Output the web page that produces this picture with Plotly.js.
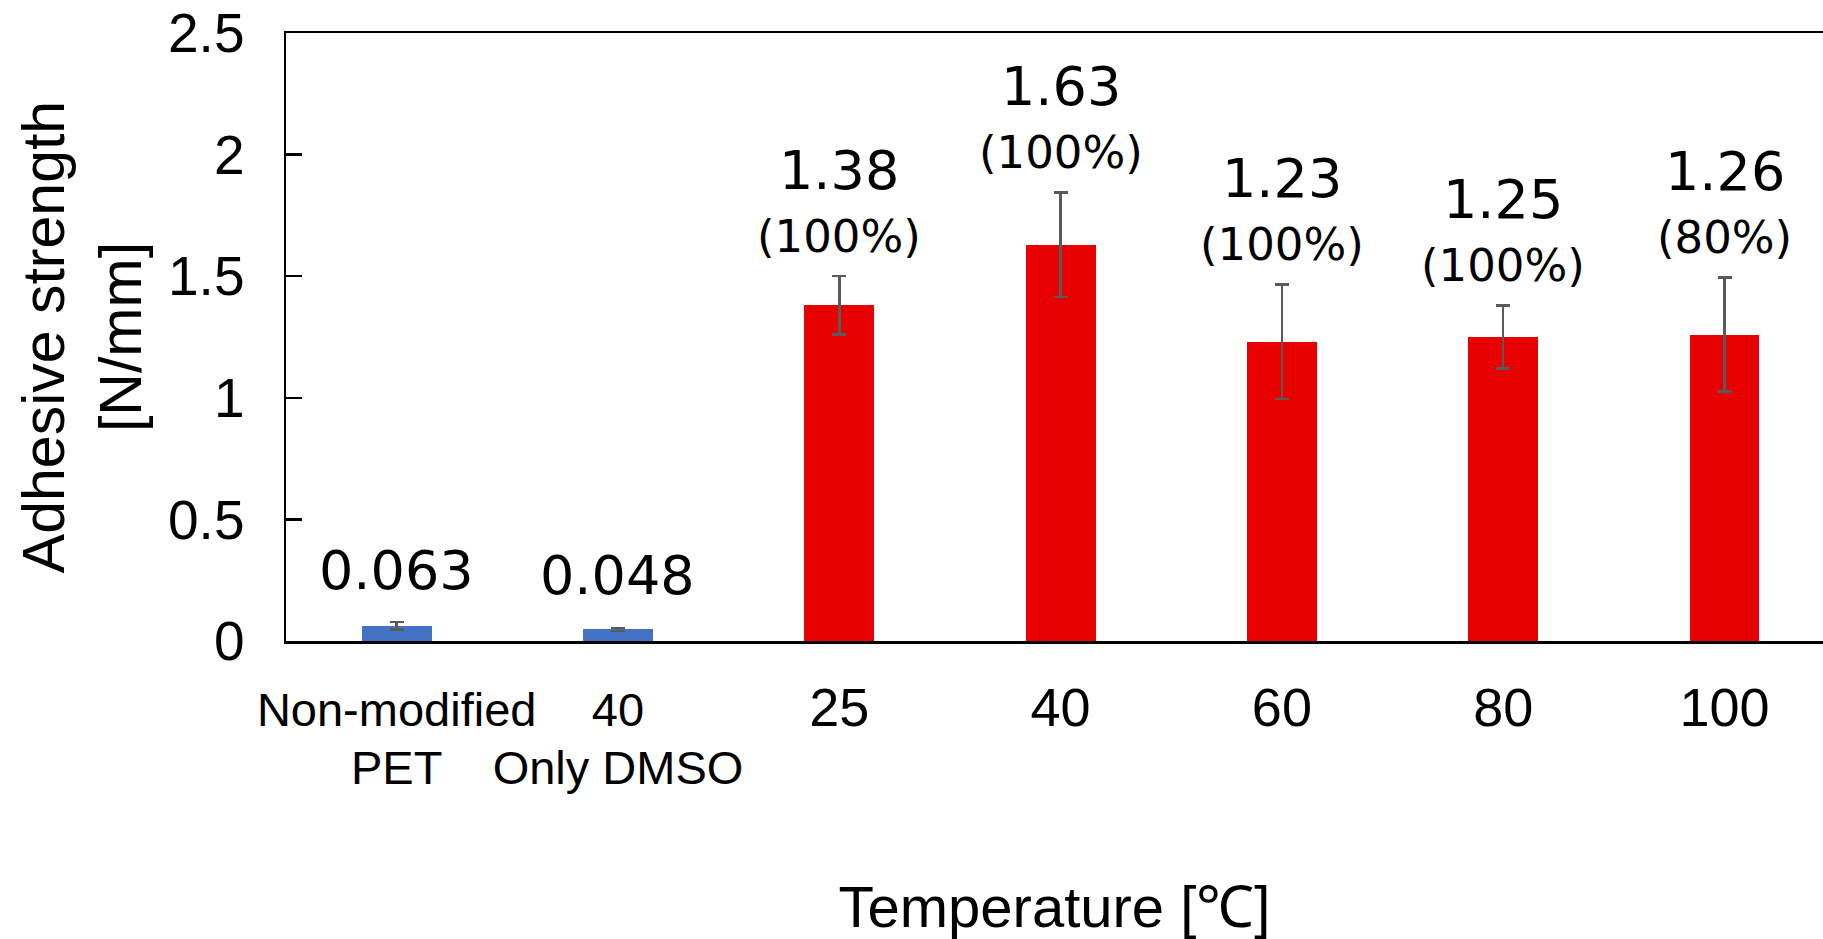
<!DOCTYPE html>
<html>
<head>
<meta charset="utf-8">
<script src="https://cdn.plot.ly/plotly-3.0.1.min.js"></script>
<style>
  html, body { margin: 0; padding: 0; background: #ffffff; }
  #chart { width: 1823px; height: 939px; }
</style>
</head>
<body>
<div id="chart"></div>
<script>
// Adhesive strength of PET joints versus treatment temperature
const categories = ['Non-modified<br>PET', '40<br>Only DMSO', '25', '40', '60', '80', '100'];
const strength = [0.063, 0.048, 1.38, 1.63, 1.23, 1.25, 1.26];
const strengthError = [0.015, 0.006, 0.12, 0.215, 0.235, 0.13, 0.235];
const valueLabels = ['0.063', '0.048', '1.38', '1.63', '1.23', '1.25', '1.26'];
const fractureLabels = ['', '', '(100%)', '(100%)', '(100%)', '(100%)', '(80%)'];
const barColors = ['#4472C4', '#4472C4', '#E60000', '#E60000', '#E60000', '#E60000', '#E60000'];

const positions = categories.map((_, i) => i);

// Two-line reference labels are set smaller than the temperature labels
const tickText = categories.map(c =>
  c.indexOf('<br>') >= 0
    ? '<span style="font-size:47px">' + c + '</span>'
    : '<span style="font-size:54px">' + c + '</span>'
);

const trace = {
  type: 'bar',
  x: positions,
  y: strength,
  width: 0.316,
  marker: { color: barColors, line: { width: 0 } },
  error_y: {
    type: 'data',
    array: strengthError,
    visible: true,
    color: '#5a5a5a',
    thickness: 2.5,
    width: 7
  },
  hoverinfo: 'x+y'
};

const annotations = [];
positions.forEach((x, i) => {
  const top = strength[i] + strengthError[i];
  annotations.push({
    x: x, y: top, xref: 'x', yref: 'y',
    text: valueLabels[i],
    showarrow: false,
    yanchor: 'middle',
    yshift: fractureLabels[i] ? 106 : 52,
    font: { family: 'DejaVu Sans', size: 54, color: '#000000' }
  });
  if (fractureLabels[i]) {
    annotations.push({
      x: x, y: top, xref: 'x', yref: 'y',
      text: fractureLabels[i],
      showarrow: false,
      yanchor: 'middle',
      yshift: 40,
      font: { family: 'DejaVu Sans', size: 45, color: '#000000' }
    });
  }
});

const layout = {
  width: 1823,
  height: 939,
  margin: { l: 286, r: 0, t: 33, b: 298 },
  paper_bgcolor: '#ffffff',
  plot_bgcolor: '#ffffff',
  showlegend: false,
  bargap: 0,
  xaxis: {
    range: [-0.5, 6.445],
    tickmode: 'array',
    tickvals: positions,
    ticktext: tickText,
    tickangle: 0,
    ticks: '',
    showgrid: false,
    zeroline: false,
    showline: true,
    mirror: true,
    linecolor: '#000000',
    linewidth: 2.5,
    ticklabelstandoff: 30,
    tickfont: { family: 'Liberation Sans, Arial, sans-serif', size: 44, color: '#000000' },
    title: {
      text: 'Temperature [℃]',
      standoff: 115,
      font: { family: 'Liberation Sans, Arial, sans-serif', size: 58, color: '#000000' }
    }
  },
  yaxis: {
    range: [0, 2.5],
    tickmode: 'linear',
    tick0: 0,
    dtick: 0.5,
    ticks: 'inside',
    ticklen: 16,
    tickwidth: 2.5,
    tickcolor: '#000000',
    showgrid: false,
    zeroline: false,
    showline: true,
    linecolor: '#000000',
    linewidth: 2.5,
    ticklabelstandoff: 28,
    tickfont: { family: 'Liberation Sans, Arial, sans-serif', size: 55, color: '#000000' },
    title: {
      text: 'Adhesive strength<br>[N/mm]',
      standoff: 8,
      font: { family: 'Liberation Sans, Arial, sans-serif', size: 59, color: '#000000' }
    }
  },
  annotations: annotations
};

Plotly.newPlot('chart', [trace], layout, { staticPlot: true, displayModeBar: false });
</script>
</body>
</html>
